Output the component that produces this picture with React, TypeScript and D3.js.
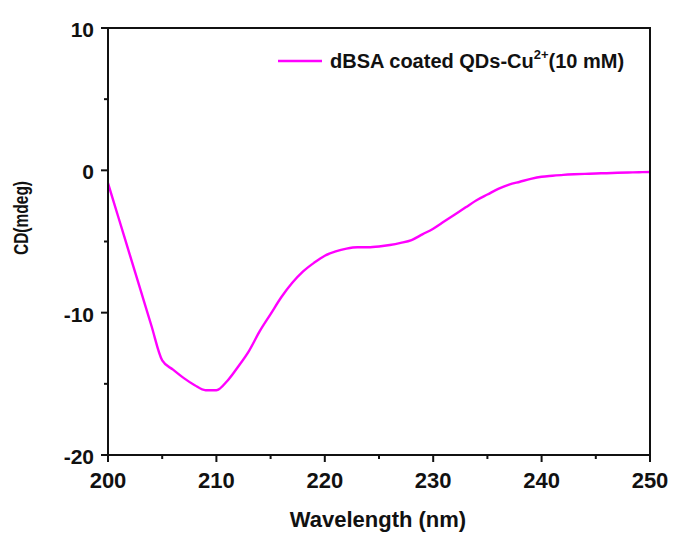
import React from "react";
import * as d3 from "d3";

// wavelength (nm) and CD signal (mdeg)
const wavelengths = [
  200, 201, 202, 203, 204, 205, 206, 207, 208, 209, 210, 211, 212, 213, 214, 215, 216,
  217, 218, 219, 220, 221, 222, 223, 224, 225, 226, 227, 228, 229, 230, 231, 232, 233,
  234, 235, 236, 237, 238, 239, 240, 241, 242, 243, 244, 245, 246, 247, 248, 249, 250,
];
const cdValues = [
  -0.9, -3.4, -5.9, -8.4, -10.9, -13.35, -14.0, -14.6, -15.1, -15.45, -15.45, -14.8,
  -13.8, -12.7, -11.3, -10.1, -8.9, -7.9, -7.1, -6.5, -6.0, -5.7, -5.5, -5.4, -5.4,
  -5.35, -5.25, -5.1, -4.9, -4.5, -4.1, -3.6, -3.1, -2.6, -2.1, -1.7, -1.3, -1.0, -0.8,
  -0.6, -0.45, -0.38, -0.32, -0.28, -0.25, -0.22, -0.2, -0.17, -0.15, -0.13, -0.12,
];
const xTicks = [200, 210, 220, 230, 240, 250];
const xMinorTicks = [205, 215, 225, 235, 245];
const yTicks = [10, 0, -10, -20];
const yMinorTicks = [5, -5, -15];
const seriesLabel = "dBSA coated QDs-Cu";

export default function App() {
  const width = 673;
  const height = 538;
  const left = 108, right = 650, top = 28, bottom = 455;

  const x = d3.scaleLinear().domain([200, 250]).range([left, right]);
  const y = d3.scaleLinear().domain([-20, 10]).range([bottom, top]);

  const data = wavelengths.map((w, i) => ({ w, v: cdValues[i] }));
  const line = d3.line<{ w: number; v: number }>()
    .x(d => x(d.w))
    .y(d => y(d.v))
    .curve(d3.curveMonotoneX);

  const font = "Arial, 'Liberation Sans', sans-serif";

  return (
    <svg width={width} height={height} style={{ position: "absolute", left: 0, top: 0, background: "#fff" }}>
      <path d={line(data) || ""} fill="none" stroke="#ff00ff" strokeWidth={2.4} />

      {/* frame */}
      <rect x={left} y={top} width={right - left} height={bottom - top} fill="none" stroke="#111" strokeWidth={2} />

      {/* x ticks */}
      {xTicks.map(t => (
        <g key={"x" + t}>
          <line x1={x(t)} x2={x(t)} y1={bottom} y2={bottom + 7} stroke="#111" strokeWidth={2} />
          <text x={x(t)} y={488} textAnchor="middle" fontFamily={font} fontWeight="bold" fontSize={22} fill="#111">{t}</text>
        </g>
      ))}
      {xMinorTicks.map(t => (
        <line key={"xm" + t} x1={x(t)} x2={x(t)} y1={bottom} y2={bottom + 4} stroke="#111" strokeWidth={2} />
      ))}

      {/* y ticks */}
      {yTicks.map(t => (
        <g key={"y" + t}>
          <line x1={left - 7} x2={left} y1={y(t)} y2={y(t)} stroke="#111" strokeWidth={2} />
          <text x={left - 14} y={y(t) + 9} textAnchor="end" fontFamily={font} fontWeight="bold" fontSize={21} fill="#111">{t}</text>
        </g>
      ))}
      {yMinorTicks.map(t => (
        <line key={"ym" + t} x1={left - 4} x2={left} y1={y(t)} y2={y(t)} stroke="#111" strokeWidth={2} />
      ))}

      {/* axis titles */}
      <text x={(left + right) / 2 - 1} y={527} textAnchor="middle" fontFamily={font} fontWeight="bold" fontSize={22} fill="#111">Wavelength (nm)</text>
      <text transform={`translate(28, ${218}) rotate(-90) scale(1, 1.35)`} textAnchor="middle" fontFamily={font} fontWeight="bold" fontSize={15.5} fill="#111">CD(mdeg)</text>

      {/* legend */}
      <line x1={278} x2={322} y1={61} y2={61} stroke="#ff00ff" strokeWidth={2.4} />
      <text x={330} y={68} fontFamily={font} fontWeight="bold" fontSize={20} fill="#111">
        {seriesLabel}
        <tspan dy={-9} fontSize={13}>2+</tspan>
        <tspan dy={9} fontSize={20}>(10 mM)</tspan>
      </text>
    </svg>
  );
}
